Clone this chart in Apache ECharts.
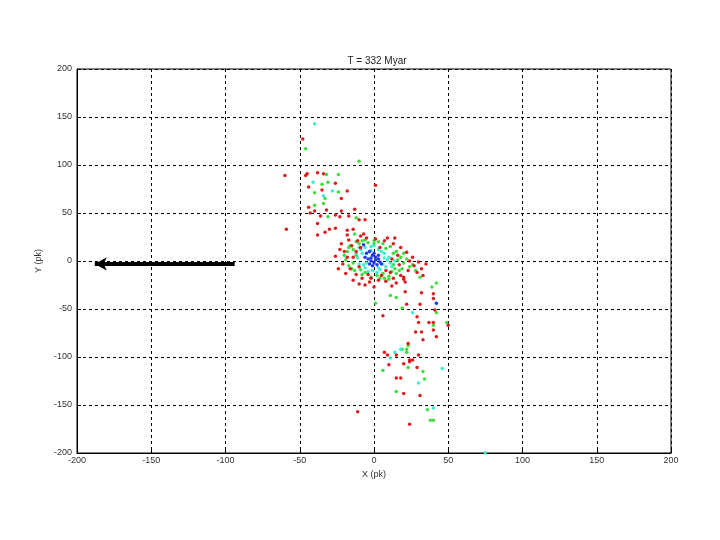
<!DOCTYPE html>
<html><head><meta charset="utf-8">
<script src="https://cdn.jsdelivr.net/npm/echarts@6/dist/echarts.min.js"></script>
<style>html,body{margin:0;padding:0;background:#fff}#c{width:720px;height:540px}</style>
</head><body><div id="c"></div>
<script>
const titleText = 'T = 332 Myar';
const xTicks = [-200,-150,-100,-50,0,50,100,150,200];
const yTicks = [-200,-150,-100,-50,0,50,100,150,200];
const arrowStart = [-94,-3];
const arrowEnd = [-190,-3];

const redPts = [
 [-48,127],[-60,89],[-46,89],[-45,91],[-38,92],[-34,91],[-26,81],[-44,77],[-35,74],[-18,73],[-22,65],[1,79],
 [-44,56],[-40,52],[-43,50],[-36,47],[-32,53],[-26,48],[-23,46],[-22,52],[-17,47],[-13,54],[-10,43],[-6,43],
 [-38,39],[-59,33],[-33,30],[-30,33],[-26,34],[-38,27],[-18,32],[-14,33],[-18,27],[-9,26],
 [20,-17],[32,-33],[40,-34],[40,-39],[21,-32],[22,-45],[31,-45],[41,-51],[6,-57],[29,-58],[30,-64],[37,-64],
 [40,-64],[50,-67],[28,-74],[32,-74],[40,-72],[42,-79],[33,-82],[23,-86],[7,-95],[9,-98],[15,-98],[24,-103],
 [26,-103],[30,-98],[24,-105],[10,-108],[20,-107],[29,-111],[15,-122],[18,-122],[20,-138],[31,-140],[-11,-157],[24,-170],
 [-22,18],[-20,10],[-18,4],[-21,-3],[-16,-8],[-12,-14],[-8,-18],[-3,-22],[3,-20],[8,-21],[13,-18],[18,-15],
 [23,-10],[27,-5],[30,-1],[26,4],[22,9],[18,14],[13,18],[7,21],[1,23],[-5,24],[-11,21],[-15,16],[-24,-8],
 [-19,-13],[-6,-25],[15,-23],[32,-8],[24,0],[-9,14],[11,-12],[20,-19],[-14,-20],[5,-15],[-26,5],[9,24],
 [17,-4],[-2,-18],[29,-12],[-17,22],[21,-22],[35,-3],[-10,-24],[0,-27],[14,24],[-23,12],[33,-15],[-7,28],[12,-26],
 [-14,4],[-10,-6],[8,-10],[16,6],[-12,10],[4,14],[-4,-14],[12,2]
];
const greenPts = [
 [-46,117],[-10,104],[-32,90],[-24,90],[-35,80],[-31,82],[-24,72],[-40,71],[-33,65],[-34,60],[-40,58],[-31,46],[-12,45],[-13,28],
 [31,-17],[42,-23],[39,-27],[11,-36],[15,-38],[1,-44],[19,-49],[42,-54],[49,-64],[40,-67],[23,-88],[22,-92],[22,-95],
 [23,-111],[6,-114],[33,-115],[34,-123],[15,-136],[36,-155],[38,-166],[40,-166],[19,-92],
 [-18,10],[-16,16],[-12,20],[-6,22],[0,21],[6,18],[11,15],[15,10],[18,4],[20,-2],[19,-8],[15,-13],[10,-16],
 [4,-18],[-2,-17],[-8,-14],[-13,-10],[-17,-5],[-19,1],[-20,6],[-14,12],[13,-4],[16,1],[8,13],[-4,19],[2,-15],
 [24,-6],[22,2],[-10,18],[12,-11],[26,-4],[17,-10],[-15,-8],[7,-18],[-8,21],[3,20],[20,8],[-17,14],[28,-10],[10,-19],
 [-14,-2],[-12,6],[13,8],[14,-8],[-6,-12],[6,-13],[0,18],[-9,-9]
];
const cyanPts = [
 [-40,143],[-41,82],[-28,73],[-34,68],
 [26,-54],[14,-95],[11,-101],[18,-92],[46,-112],[30,-127],[40,-153],[75,-200],
 [-9,12],[-6,14],[-2,15],[3,12],[7,8],[10,4],[11,-2],[8,-6],[4,-9],[-1,-10],[-6,-7],[-10,-3],[-11,3],
 [-8,8],[6,-3],[9,1],[-4,-11],[2,-12],[12,-6],[-12,8],[5,10],[-7,-4],[14,0],[0,16],[-10,14],
 [-5,-2],[7,3],[-2,11],[3,-7]
];
const bluePts = [
 [42,-44],
 [-5,8],[-3,10],[-1,6],[1,4],[3,2],[-4,2],[-2,0],[0,-2],[2,-4],[4,-1],[-6,4],[-1,-5],[1,1],[-3,-3],[3,6],[5,-3],[0,8],[-2,3],[-7,17]
];

const font = 'Liberation Sans, Arial, sans-serif';
const chart = echarts.init(document.getElementById('c'), null, {renderer:'canvas'});
function sc(name, data, color, size){
  return {type:'scatter', name, data, symbol:'circle', symbolSize:size,
    itemStyle:{color, opacity:0.95}, silent:true, z:3};
}
chart.setOption({
  animation:false,
  backgroundColor:'#fff',
  title:{text:titleText, left:372, top:51, textAlign:'center',
    textStyle:{fontFamily:font, fontSize:10, fontWeight:'normal', color:'#222'}},
  grid:{left:77, right:49, top:69, bottom:87, show:true, borderColor:'#000', borderWidth:1, backgroundColor:'#fff'},
  xAxis:{type:'value', min:xTicks[0], max:xTicks[xTicks.length-1], interval:50,
    name:'X (pk)', nameLocation:'middle', nameGap:16,
    nameTextStyle:{fontFamily:font, fontSize:9, color:'#333'},
    axisLine:{show:true, onZero:false, lineStyle:{color:'#000'}},
    axisTick:{show:true, inside:true, length:4, lineStyle:{color:'#000'}},
    axisLabel:{fontFamily:font, fontSize:9, color:'#333', margin:3},
    splitLine:{show:true, lineStyle:{color:'#000', type:[3,3], width:1}}},
  yAxis:{type:'value', min:yTicks[0], max:yTicks[yTicks.length-1], interval:50,
    name:'Y (pk)', nameLocation:'middle', nameGap:32, nameRotate:90,
    nameTextStyle:{fontFamily:font, fontSize:9, color:'#333'},
    axisLine:{show:true, onZero:false, lineStyle:{color:'#000'}},
    axisTick:{show:true, inside:true, length:4, lineStyle:{color:'#000'}},
    axisLabel:{fontFamily:font, fontSize:9, color:'#333', margin:5},
    splitLine:{show:true, lineStyle:{color:'#000', type:[3,3], width:1}}},
  series:[
    sc('green', greenPts, '#33dd33', 3.5),
    sc('cyan', cyanPts, '#33eecc', 3.5),
    sc('red', redPts, '#dd1111', 3.5),
    sc('blue', bluePts, '#1133ee', 3.5),
    {type:'line', data:[arrowStart, [arrowEnd[0]+8, arrowEnd[1]]], symbol:'none', silent:true, z:4,
     lineStyle:{color:'#000', width:4},
     markLine:{silent:true, symbol:['none','arrow'], symbolSize:[10,12], label:{show:false},
       lineStyle:{color:'#000', width:4, type:'solid'},
       data:[[{coord:arrowStart},{coord:[arrowEnd[0]+2, arrowEnd[1]]}]]}}
  ]
});
</script></body></html>
